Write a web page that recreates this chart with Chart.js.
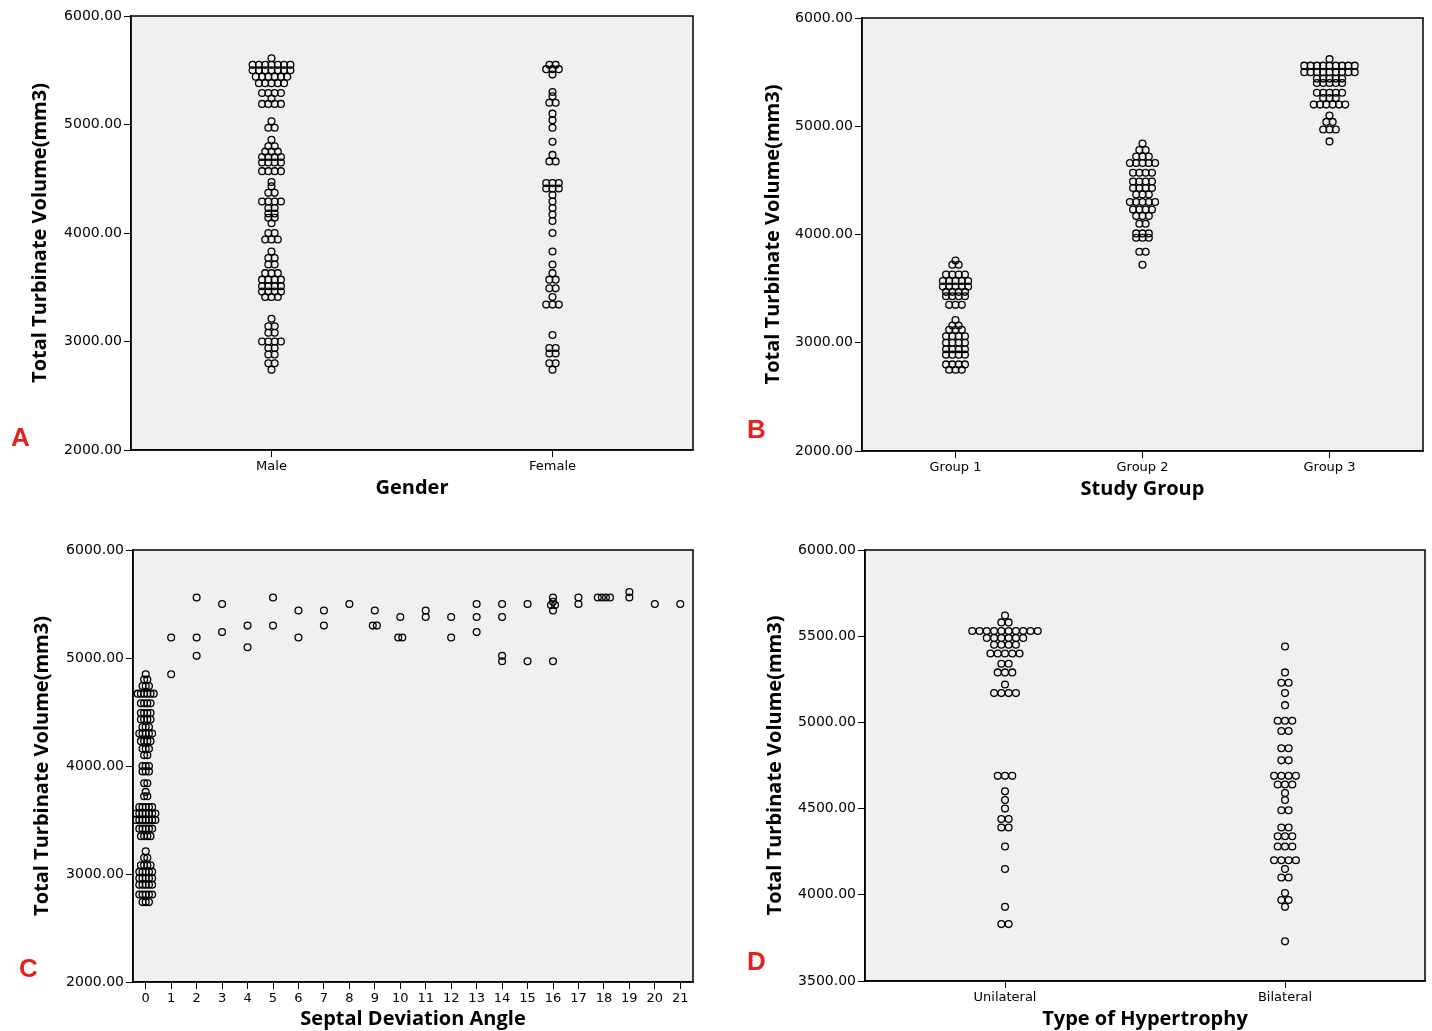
<!DOCTYPE html>
<html>
<head>
<meta charset="utf-8">
<script src="https://cdn.jsdelivr.net/npm/chart.js@4.4.1/dist/chart.umd.min.js"></script>
<style>
  body { margin: 0; background: #fff; }
  #page { position: relative; width: 1432px; height: 1031px; }
  .panel { position: absolute; }
  .tag { position: absolute; font-family: "Liberation Sans", Arial, sans-serif; font-weight: bold;
         font-size: 26px; line-height: 26px; color: #e3231d; }
</style>
</head>
<body>
<div id="page">
  <canvas id="chartA" class="panel" width="716" height="515" style="left:0;top:0"></canvas>
  <canvas id="chartB" class="panel" width="716" height="515" style="left:716px;top:0"></canvas>
  <canvas id="chartC" class="panel" width="716" height="516" style="left:0;top:515px"></canvas>
  <canvas id="chartD" class="panel" width="716" height="516" style="left:716px;top:515px"></canvas>
  <div class="tag" style="left:11px;top:424px">A</div>
  <div class="tag" style="left:747px;top:416px">B</div>
  <div class="tag" style="left:19px;top:955px">C</div>
  <div class="tag" style="left:747px;top:948px">D</div>
</div>
<script>
// dot plots: each bin value + how many cases sit in that bin

// #A  Gender
var genderLabels = ["Male", "Female"];
var maleVals   = [5610,5550,5500,5440,5380,5290,5240,5190,5030,4970,4860,4800,4750,4700,4650,4570,4470,4430,4370,4290,4230,4180,4140,4090,4000,3940,3830,3770,3710,3630,3570,3510,3460,3410,3210,3140,3080,3000,2940,2880,2800,2740];
var maleCounts = [1,7,7,6,5,4,1,4,1,2,1,2,3,4,4,4,1,1,2,4,2,2,2,1,2,3,1,2,2,3,4,4,4,3,1,2,2,4,2,2,2,1];
var femaleVals   = [5550,5510,5460,5300,5260,5200,5100,5040,4970,4840,4720,4660,4460,4410,4350,4290,4230,4170,4110,4000,3830,3710,3630,3570,3490,3410,3340,3060,2940,2890,2800,2740];
var femaleCounts = [2,3,1,1,1,2,1,1,1,1,1,2,3,3,1,1,1,1,1,1,1,1,1,2,2,1,3,1,2,2,2,1];

// #B  Study group
var groupLabels = ["Group 1", "Group 2", "Group 3"];
var g1Vals   = [3760,3720,3630,3570,3520,3470,3430,3350,3210,3160,3120,3060,3000,2940,2890,2800,2750];
var g1Counts = [1,2,4,5,5,4,4,3,1,2,3,4,4,4,4,4,3];
var g2Vals   = [4840,4780,4720,4660,4570,4490,4430,4370,4300,4230,4170,4100,4010,3970,3840,3720];
var g2Counts = [1,2,3,5,4,4,4,3,5,4,3,2,3,3,2,1];
var g3Vals   = [5620,5560,5500,5440,5400,5310,5260,5200,5100,5040,4970,4860];
var g3Counts = [1,9,9,5,5,5,3,6,1,2,3,1];

// #C  Septal deviation angle
var angleTicks = [0,1,2,3,4,5,6,7,8,9,10,11,12,13,14,15,16,17,18,19,20,21];
var angle0Vals   = [4850,4800,4740,4670,4580,4490,4430,4360,4300,4230,4160,4100,4000,3950,3840,3760,3720,3620,3560,3500,3420,3350,3210,3150,3080,3020,2960,2900,2810,2740];
var angle0Counts = [1,2,3,6,4,4,4,3,5,4,3,2,3,3,2,1,2,5,7,7,5,4,1,2,4,5,5,5,5,3];
var angleX      = [1,1,2,2,2,3,3,4,4,5,5,6,6,7,7,8,9,9,10,10,11,11,12,12,13,13,13,14,14,14,14,15,15,16,16,16,16,16,17,17,18,19,19,20,21];
var angleVals   = [5190,4850,5560,5190,5020,5500,5240,5300,5100,5560,5300,5440,5190,5440,5300,5500,5440,5300,5380,5190,5440,5380,5380,5190,5500,5380,5240,5500,5380,5020,4970,5500,4970,5560,5520,5490,5440,4970,5560,5500,5560,5610,5560,5500,5500];
var angleCounts = [1,1,1,1,1,1,1,1,1,1,1,1,1,1,1,1,1,2,1,2,1,1,1,1,1,1,1,1,1,1,1,1,1,1,1,2,1,1,1,1,4,1,1,1,1];

// #D  Type of hypertrophy
var typeLabels = ["Unilateral", "Bilateral"];
var uniVals   = [5620,5580,5530,5490,5450,5400,5340,5290,5220,5170,4690,4600,4550,4500,4440,4390,4280,4150,3930,3830];
var uniCounts = [1,2,10,6,4,5,2,3,1,4,3,1,1,1,2,2,1,1,1,2];
var biVals   = [5440,5290,5230,5170,5100,5010,4950,4850,4780,4690,4640,4590,4550,4490,4390,4340,4280,4200,4150,4100,4010,3970,3930,3730];
var biCounts = [1,1,2,1,1,3,2,2,2,4,3,1,1,2,2,3,3,4,1,2,1,2,1,1];

var xTickFont = {family: "DejaVu Sans", size: 13};
var yTickFont = {family: "DejaVu Sans", size: 14};
var titleFont = {family: "Open Sans", size: 20, weight: "bold"};

// spread the cases of one bin side by side around the column centre
function stack(center, vals, counts, dx) {
  var pts = [];
  vals.forEach(function (v, k) {
    var n = counts[k];
    for (var i = 0; i < n; i++) pts.push({x: center + (i - (n - 1) / 2) * dx, y: v});
  });
  return pts;
}

var framePlugin = {
  id: "frame",
  beforeDraw: function (chart) {
    var a = chart.chartArea, ctx = chart.ctx;
    ctx.save();
    ctx.fillStyle = "#f0f0f0";
    ctx.fillRect(a.left, a.top, a.right - a.left, a.bottom - a.top);
    ctx.restore();
  },
  afterDraw: function (chart) {
    var a = chart.chartArea, ctx = chart.ctx;
    ctx.save();
    ctx.strokeStyle = "#000";
    ctx.lineWidth = 1.5;
    ctx.strokeRect(a.left, a.top, a.right - a.left, a.bottom - a.top);
    ctx.restore();
  }
};

function makeChart(id, o) {
  new Chart(id, {
    type: "scatter",
    data: {
      datasets: [{
        data: o.points,
        pointRadius: 3.4,
        pointBorderWidth: 1.3,
        borderColor: "#000",
        backgroundColor: "rgba(0,0,0,0)"
      }]
    },
    plugins: [framePlugin],
    options: {
      responsive: false,
      animation: false,
      devicePixelRatio: 1,
      layout: {padding: {top: o.padTop, right: o.padRight, left: 0, bottom: 0}},
      plugins: {legend: {display: false}, tooltip: {enabled: false}},
      scales: {
        x: {
          type: "linear",
          min: o.xMin,
          max: o.xMax,
          afterBuildTicks: function (s) {
            s.ticks = o.xTicks.map(function (v) { return {value: v}; });
          },
          afterFit: function (s) { s.height = o.xHeight; },
          ticks: {
            autoSkip: false,
            maxRotation: 0,
            padding: 2,
            color: "#000",
            font: xTickFont,
            callback: o.xLabel
          },
          grid: {drawOnChartArea: false, drawTicks: true, tickLength: 7, color: "#000", lineWidth: 1},
          border: {display: true, color: "#000", width: 1.5},
          title: {display: true, text: o.xTitle, color: "#000", font: titleFont,
                  padding: {top: 0, bottom: o.xTitlePad}}
        },
        y: {
          min: o.yMin,
          max: o.yMax,
          afterFit: function (s) { s.width = o.yWidth; },
          ticks: {
            stepSize: o.yStep,
            padding: 2,
            color: "#000",
            font: yTickFont,
            callback: function (v) { return v.toFixed(2); }
          },
          grid: {drawOnChartArea: false, drawTicks: true, tickLength: 7, color: "#000", lineWidth: 1},
          border: {display: true, color: "#000", width: 1.5},
          title: {display: true, text: "Total Turbinate Volume(mm3)", color: "#000", font: titleFont,
                  padding: {top: o.yTitlePad, bottom: 0}}
        }
      }
    }
  });
}

function catLabel(labels) {
  return function (v) { return labels[v - 1]; };
}

// #A
makeChart("chartA", {
  points: stack(1, maleVals, maleCounts, 0.0224).concat(stack(2, femaleVals, femaleCounts, 0.0224)),
  xMin: 0.5, xMax: 2.5, xTicks: [1, 2], xLabel: catLabel(genderLabels), xTitle: "Gender",
  yMin: 2000, yMax: 6000, yStep: 1000,
  padTop: 16, padRight: 23, yWidth: 131, xHeight: 65, xTitlePad: 15, yTitlePad: 28
});

// #B
makeChart("chartB", {
  points: stack(1, g1Vals, g1Counts, 0.0337)
    .concat(stack(2, g2Vals, g2Counts, 0.0337))
    .concat(stack(3, g3Vals, g3Counts, 0.0337)),
  xMin: 0.5, xMax: 3.5, xTicks: [1, 2, 3], xLabel: catLabel(groupLabels), xTitle: "Study Group",
  yMin: 2000, yMax: 6000, yStep: 1000,
  padTop: 18, padRight: 9, yWidth: 146, xHeight: 64, xTitlePad: 14, yTitlePad: 45
});

// #C
var cPoints = stack(0, angle0Vals, angle0Counts, 0.126);
angleX.forEach(function (a, k) {
  cPoints = cPoints.concat(stack(a, [angleVals[k]], [angleCounts[k]], 0.16));
});
makeChart("chartC", {
  points: cPoints,
  xMin: -0.5, xMax: 21.5, xTicks: angleTicks, xLabel: function (v) { return String(v); },
  xTitle: "Septal Deviation Angle",
  yMin: 2000, yMax: 6000, yStep: 1000,
  padTop: 35, padRight: 23, yWidth: 133, xHeight: 49, xTitlePad: 0, yTitlePad: 30
});

// #D
makeChart("chartD", {
  points: stack(1, uniVals, uniCounts, 0.026).concat(stack(2, biVals, biCounts, 0.026)),
  xMin: 0.5, xMax: 2.5, xTicks: [1, 2], xLabel: catLabel(typeLabels), xTitle: "Type of Hypertrophy",
  yMin: 3500, yMax: 6000, yStep: 500,
  padTop: 35, padRight: 7, yWidth: 149, xHeight: 50, xTitlePad: 0, yTitlePad: 47
});
</script>
</body>
</html>
